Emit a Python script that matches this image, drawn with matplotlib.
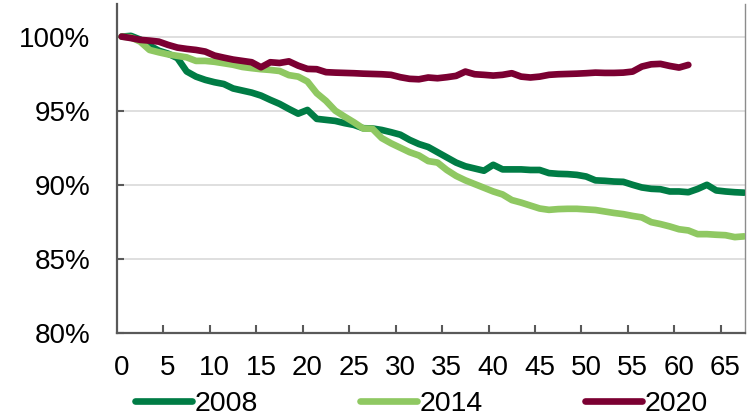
import matplotlib
matplotlib.use("Agg")
import matplotlib.pyplot as plt
import numpy as np

plt.rcParams['font.family'] = ['Liberation Sans', 'DejaVu Sans']

# ---- data -------------------------------------------------------------
x_labels = [0, 5, 10, 15, 20, 25, 30, 35, 40, 45, 50, 55, 60, 65]
y_ticks = [80, 85, 90, 95, 100]
series_names = ["2008", "2014", "2020"]

s2008 = [100.0, 100.05, 99.8, 99.4, 99.05, 98.85, 98.55, 97.65, 97.3, 97.08,
         96.92, 96.8, 96.5, 96.36, 96.22, 96.02, 95.73, 95.46, 95.12, 94.8,
         95.05, 94.45, 94.38, 94.31, 94.16, 94.04, 93.82, 93.8, 93.7, 93.55,
         93.38, 93.03, 92.75, 92.55, 92.2, 91.85, 91.5, 91.25, 91.1, 90.95,
         91.35, 91.04, 91.04, 91.04, 91.0, 91.0, 90.79, 90.74, 90.72, 90.67,
         90.56, 90.3, 90.27, 90.22, 90.2, 90.0, 89.82, 89.73, 89.7, 89.55,
         89.55, 89.5, 89.72, 90.0, 89.62, 89.55, 89.5, 89.47]

s2014 = [100.0, 99.95, 99.66, 99.1, 98.94, 98.8, 98.7, 98.6, 98.36, 98.36,
         98.3, 98.2, 98.1, 97.95, 97.87, 97.8, 97.75, 97.68, 97.4, 97.3,
         96.97, 96.18, 95.66, 95.0, 94.6, 94.22, 93.8, 93.78, 93.15, 92.8,
         92.5, 92.2, 91.98, 91.6, 91.5, 91.0, 90.6, 90.3, 90.05, 89.8,
         89.55, 89.35, 88.97, 88.8, 88.6, 88.4, 88.31, 88.36, 88.38, 88.38,
         88.34, 88.3, 88.2, 88.1, 88.02, 87.9, 87.8, 87.48, 87.35, 87.19,
         87.0, 86.92, 86.67, 86.67, 86.63, 86.6, 86.47, 86.52]

s2020 = [100.0, 99.9, 99.78, 99.73, 99.66, 99.44, 99.26, 99.17, 99.1, 98.99,
         98.72, 98.58, 98.45, 98.36, 98.27, 97.93, 98.27, 98.22, 98.33, 98.04,
         97.82, 97.8, 97.6, 97.57, 97.55, 97.53, 97.5, 97.48, 97.46, 97.42,
         97.26, 97.15, 97.12, 97.24, 97.19, 97.26, 97.35, 97.64, 97.46, 97.42,
         97.37, 97.42, 97.53, 97.3, 97.24, 97.3, 97.42, 97.46, 97.48, 97.5,
         97.53, 97.57, 97.55, 97.55, 97.57, 97.64, 97.98, 98.13, 98.16, 98.02,
         97.91, 98.09]

colors = ["#007c45", "#8fc862", "#7b0032"]

# ---- figure -----------------------------------------------------------
W, H = 748, 418
fig = plt.figure(figsize=(W / 100, H / 100), dpi=100)
left, right, bottom, top = 117, 745, 333, 4
ax = fig.add_axes([left / W, (H - bottom) / H, (right - left) / W, (bottom - top) / H])

for name, vals, c in zip(series_names, [s2008, s2014, s2020], colors):
    ax.plot(np.arange(len(vals)), vals, color=c, lw=4.8, label=name,
            solid_capstyle='round', solid_joinstyle='round', zorder=3)

ax.set_xlim(-0.5, 67.1)
ax.set_ylim(80, 102.2)

ax.set_yticks(y_ticks)
ax.set_yticklabels([f"{v}%" for v in y_ticks])
ax.set_xticks(x_labels)
ax.set_xticklabels([str(v) for v in x_labels])
ax.set_xticks([v - 0.5 for v in x_labels[1:]], minor=True)

ax.grid(axis='y', color='#d9d9d9', lw=1.2, zorder=0)
ax.set_axisbelow(True)

ax.spines['top'].set_visible(False)
ax.spines['right'].set_color('#8c8c8c')
ax.spines['right'].set_linewidth(1.0)
for s in ['left', 'bottom']:
    ax.spines[s].set_color('#595959')
    ax.spines[s].set_linewidth(1.6)

ax.tick_params(axis='y', direction='in', length=5, width=1.5, color='#595959',
               labelsize=20, pad=19, labelcolor='black')
ax.tick_params(axis='x', which='major', length=0, labelsize=20, pad=16,
               labelcolor='black')
ax.tick_params(axis='x', which='minor', direction='in', length=6, width=1.5,
               color='#595959')

leg = fig.legend(loc='center left', bbox_to_anchor=(135 / W, (H - 404) / H),
                 ncol=3, frameon=False, fontsize=20.5, borderpad=0,
                 borderaxespad=0, handlelength=2.0, handletextpad=0.08,
                 columnspacing=3.6)

fig.savefig("out.png", dpi=100)
